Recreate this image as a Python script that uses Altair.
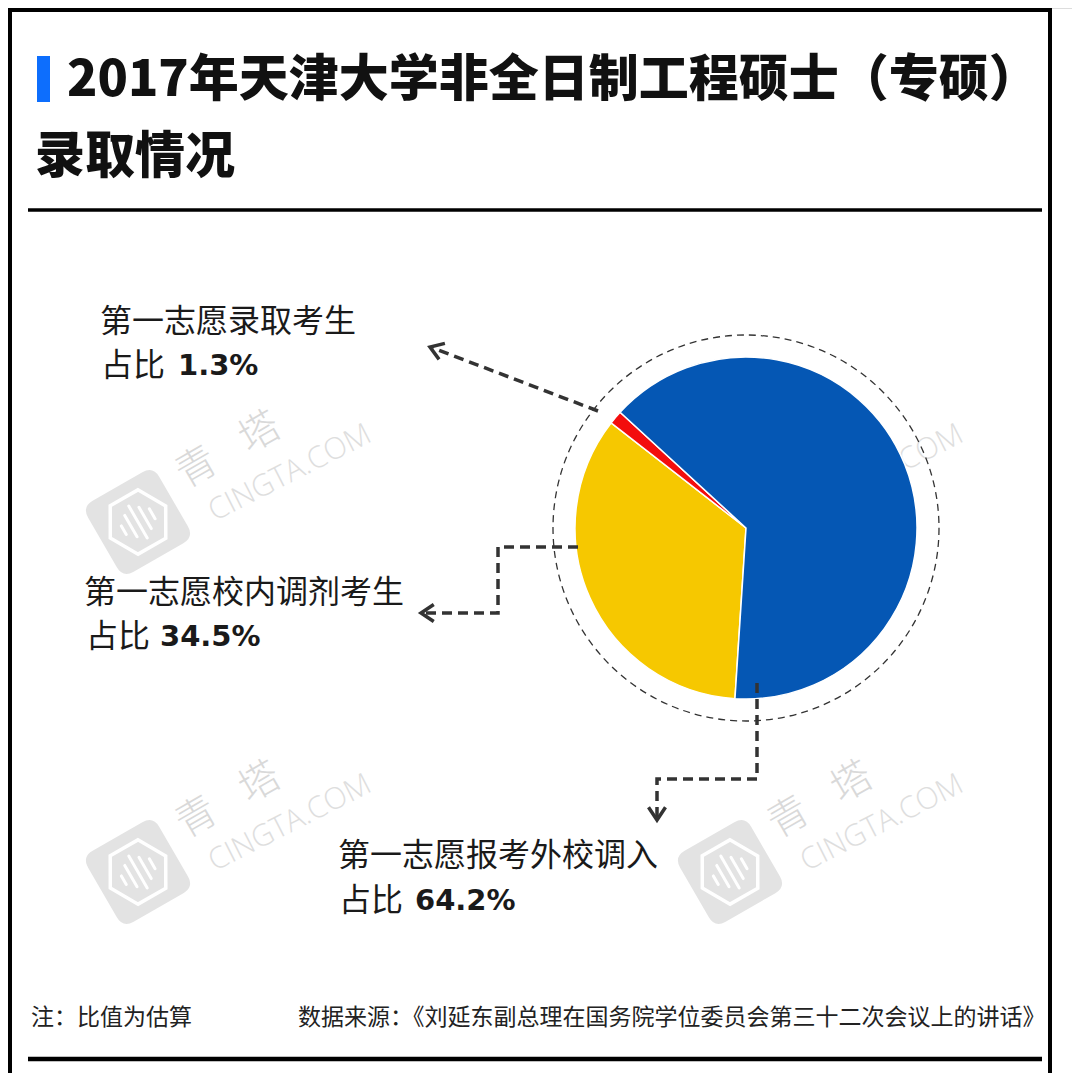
import math
import altair as alt
import pandas as pd

# ---------------- data ----------------
categories = ["第一志愿校内调剂考生", "第一志愿录取考生", "第一志愿报考外校调入"]
shares = [34.5, 1.3, 64.2]
share_labels = ["34.5%", "1.3%", "64.2%"]
prefix = "占比"
title_lines = ["2017年天津大学非全日制工程硕士（专硕）", "录取情况"]
note_text = "注：比值为估算"
source_text = "数据来源：《刘延东副总理在国务院学位委员会第三十二次会议上的讲话》"
wm_cn = ["青", "塔"]
wm_en = "CINGTA.COM"

# ---------------- styles / layout ----------------
palette = ["#f6c800", "#f30d0d", "#0557b4"]
INK = "#1a1a1a"
LEAD = "#333333"
CJK = "Noto Sans CJK SC"

OFF = 8
W, H = 1064, 1065
XS = alt.Scale(domain=[OFF, OFF + W], range=[0, W])
YS = alt.Scale(domain=[OFF, OFF + H], range=[0, H])


def X(f):
    return alt.X(f"{f}:Q", scale=XS, axis=None)


def Y(f):
    return alt.Y(f"{f}:Q", scale=YS, axis=None)


one = pd.DataFrame({"a": [0]})

# ---------------- watermarks ----------------
logo_centers = [(138, 522), (730, 522), (138, 872), (730, 872)]
wm_logo = pd.DataFrame({"x": [c[0] for c in logo_centers], "y": [c[1] for c in logo_centers]})
wm_txt_rows = []
for cx, cy in logo_centers:
    wm_txt_rows.append({"x": cx + 59, "y": cy - 54, "t": wm_cn[0]})
    wm_txt_rows.append({"x": cx + 122, "y": cy - 89, "t": wm_cn[1]})
wm_txt = pd.DataFrame(wm_txt_rows)
wm_en_df = pd.DataFrame({"x": [c[0] + 152 for c in logo_centers],
                         "y": [c[1] - 49 for c in logo_centers],
                         "t": [wm_en] * 4})

ROUNDSQ = ("M -0.7 -1 L 0.7 -1 Q 1 -1 1 -0.7 L 1 0.7 Q 1 1 0.7 1 L -0.7 1 "
           "Q -1 1 -1 0.7 L -1 -0.7 Q -1 -1 -0.7 -1 Z")
HEXA = "M 0.78 0 L 0.39 0.68 L -0.39 0.68 L -0.78 0 L -0.39 -0.68 L 0.39 -0.68 Z"
BARS = ("M -0.4 -0.12 L -0.4 0.12 M -0.2 -0.3 L -0.2 0.3 M 0 -0.45 L 0 0.45 "
        "M 0.2 -0.3 L 0.2 0.3 M 0.4 -0.14 L 0.4 0.14")

logo_sq = alt.Chart(wm_logo).mark_point(
    shape=ROUNDSQ, size=82 * 82, filled=True, fill="#e3e3e3", strokeWidth=0,
    opacity=1, angle=330
).encode(x=X("x"), y=Y("y"))
logo_hex = alt.Chart(wm_logo).mark_point(
    shape=HEXA, size=82 * 82, filled=False, stroke="white", strokeWidth=3.5,
    opacity=1, angle=330
).encode(x=X("x"), y=Y("y"))
logo_bars = alt.Chart(wm_logo).mark_point(
    shape=BARS, size=82 * 82, filled=False, stroke="white", strokeWidth=3,
    strokeCap="round", opacity=1, angle=330
).encode(x=X("x"), y=Y("y"))
wm_cn_layer = alt.Chart(wm_txt).mark_text(
    font=CJK, fontSize=40, fontWeight=300, color="#d9d9d9", angle=330,
    align="center", baseline="middle"
).encode(x=X("x"), y=Y("y"), text="t:N")
wm_en_layer = alt.Chart(wm_en_df).mark_text(
    font="Open Sans", fontSize=30, fontWeight=300, color="#dedede", angle=333,
    align="center", baseline="middle"
).encode(x=X("x"), y=Y("y"), text="t:N")

# ---------------- pie ----------------
CX, CY, R = 746, 528, 171
start = math.radians(183.7)
pie_df = pd.DataFrame({"cat": categories, "share": shares, "k": [0, 1, 2]})
pie = alt.Chart(pie_df).mark_arc(radius=R, stroke="white", strokeWidth=1.5).encode(
    theta=alt.Theta("share:Q", stack=True,
                    scale=alt.Scale(range=[start, start + 2 * math.pi])),
    color=alt.Color("cat:N", scale=alt.Scale(domain=categories, range=palette), legend=None),
    order=alt.Order("k:Q"),
    x=alt.value(CX - OFF),
    y=alt.value(CY - OFF),
)
ring = alt.Chart(one).mark_point(
    shape="circle", size=386 * 386, filled=False, stroke=LEAD, strokeWidth=1.3,
    strokeDash=[7, 5], opacity=1
).encode(x=alt.value(CX - OFF), y=alt.value(CY - OFF))

# ---------------- leaders ----------------
lead_pts = {
    categories[1]: [(598, 411), (433, 348)],
    categories[0]: [(578, 547), (498, 547), (498, 613), (424, 613)],
    categories[2]: [(757, 683), (757, 779), (657, 779), (657, 817)],
}
lead_rows = []
for cat, pts in lead_pts.items():
    for i, (px, py) in enumerate(pts):
        lead_rows.append({"cat": cat, "i": i, "x": px, "y": py})
lead_df = pd.DataFrame(lead_rows)
leaders = alt.Chart(lead_df).mark_line(
    color=LEAD, strokeWidth=3.5, strokeDash=[10, 6]
).encode(x=X("x"), y=Y("y"), detail="cat:N", order="i:Q")

arrow_df = pd.DataFrame({"x": [421, 430, 657], "y": [613, 347, 820], "ang": [0, 20, 270]})
CHEV = "M 1.5 -1 L 0 0 L 1.5 1"
arrows = alt.Chart(arrow_df).mark_point(
    shape=CHEV, size=17 * 17, filled=False, stroke=LEAD, strokeWidth=3.5,
    opacity=1, strokeJoin="miter"
).encode(x=X("x"), y=Y("y"), angle=alt.Angle("ang:Q", scale=None))

# ---------------- labels ----------------
lab1 = pd.DataFrame({"x": [84, 100, 338], "y": [593, 322, 856], "t": categories})
lab2 = pd.DataFrame({"x": [86, 101, 339], "y": [637, 366, 901], "t": [prefix] * 3})
lab3 = pd.DataFrame({"x": [160, 178, 415], "y": [637, 366, 901], "t": share_labels})
t1 = alt.Chart(lab1).mark_text(font=CJK, fontSize=32, color=INK, align="left",
                               baseline="middle").encode(x=X("x"), y=Y("y"), text="t:N")
t2 = alt.Chart(lab2).mark_text(font=CJK, fontSize=32, color=INK, align="left",
                               baseline="middle").encode(x=X("x"), y=Y("y"), text="t:N")
t3 = alt.Chart(lab3).mark_text(font="DejaVu Sans", fontSize=29, fontWeight="bold", color=INK,
                               align="left", baseline="middle").encode(x=X("x"), y=Y("y"), text="t:N")

# ---------------- title / frame / footer ----------------
title_df = pd.DataFrame({"x": [67, 35], "y": [81, 158], "t": title_lines})
title = alt.Chart(title_df).mark_text(font=CJK, fontSize=50, fontWeight=900, color="#111111",
                                      align="left", baseline="middle").encode(
    x=X("x"), y=Y("y"), text="t:N")
bar = alt.Chart(pd.DataFrame({"x": [37], "x2": [50], "y": [56], "y2": [102]})).mark_rect(
    color="#0d6efd").encode(x=X("x"), x2="x2:Q", y=Y("y"), y2="y2:Q")

rules_df = pd.DataFrame({
    "x": [28, 28, 8, 10, 1050],
    "x2": [1042, 1042, 1052, 10, 1050],
    "y": [210, 1059, 10, 8, 8],
    "y2": [210, 1059, 10, 1073, 1073],
    "w": [3.5, 4.5, 4, 4, 4],
})
rules = alt.Chart(rules_df).mark_rule(color="#000000").encode(
    x=X("x"), x2="x2:Q", y=Y("y"), y2="y2:Q", strokeWidth=alt.StrokeWidth("w:Q", scale=None))

foot_df = pd.DataFrame({"x": [31, 298], "y": [1018, 1018], "t": [note_text, source_text]})
foot = alt.Chart(foot_df).mark_text(font=CJK, fontSize=23, color="#222222", align="left",
                                    baseline="middle").encode(x=X("x"), y=Y("y"), text="t:N")

chart = alt.layer(
    logo_sq, logo_hex, logo_bars, wm_cn_layer, wm_en_layer,
    ring, pie, leaders, arrows, t1, t2, t3, title, bar, rules, foot
).properties(
    width=W, height=H, padding=0, autosize=alt.AutoSizeParams(type="none")
).configure_view(strokeWidth=0).configure(background="white")

chart.save("out.html", embed_options={"renderer": "svg", "actions": False})
